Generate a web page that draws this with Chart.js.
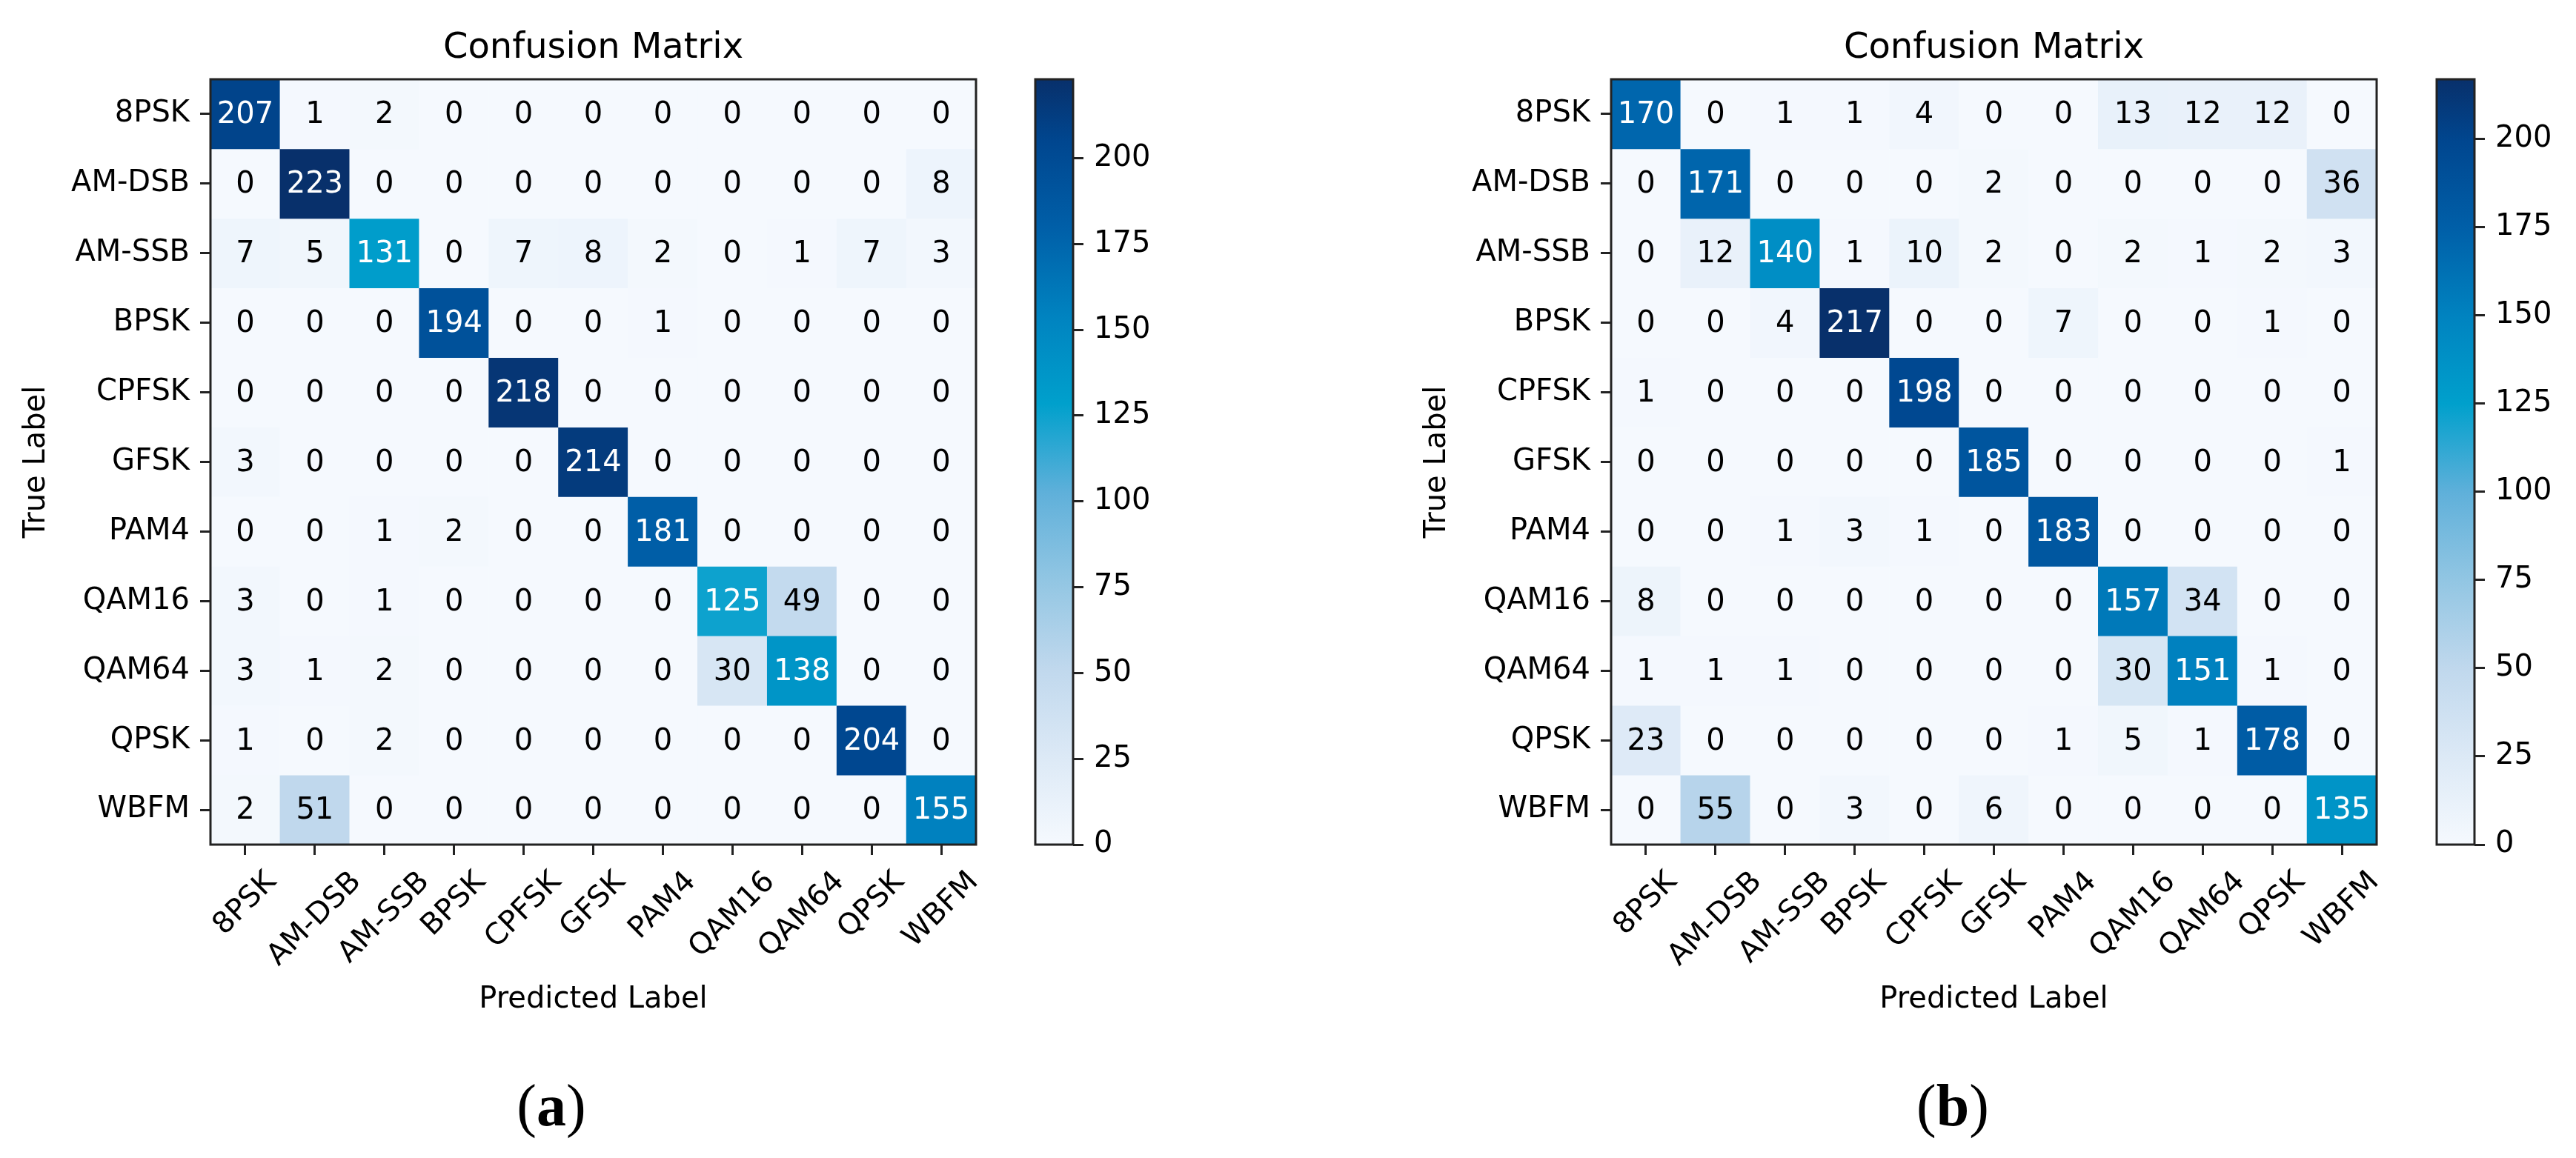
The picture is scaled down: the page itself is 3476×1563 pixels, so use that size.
<!DOCTYPE html>
<html>
<head>
<meta charset="utf-8">
<script src="https://cdn.jsdelivr.net/npm/chart.js@4.4.1/dist/chart.umd.min.js"></script>
<style>
  html, body { margin: 0; padding: 0; background: #fff; width: 3476px; height: 1563px; overflow: hidden; }
  canvas { position: absolute; }
  .caption { position: absolute; width: 200px; text-align: center; font-family: 'Liberation Serif', 'Times New Roman', serif; font-size: 80px; line-height: 100px; color: #000; }
</style>
</head>
<body>
<canvas id="matrixA" width="1600" height="1400" style="left:0px;top:0px"></canvas>
<canvas id="barA" width="220" height="1400" style="left:1370px;top:0px"></canvas>
<canvas id="matrixB" width="1600" height="1400" style="left:1890px;top:0px"></canvas>
<canvas id="barB" width="215" height="1400" style="left:3261px;top:0px"></canvas>
<div class="caption" style="left:644px;top:1442px">(<b>a</b>)</div>
<div class="caption" style="left:2535px;top:1442px">(<b>b</b>)</div>
<script>
const classLabels = ['8PSK', 'AM-DSB', 'AM-SSB', 'BPSK', 'CPFSK', 'GFSK', 'PAM4', 'QAM16', 'QAM64', 'QPSK', 'WBFM'];

// rows = true label, columns = predicted label
const matrixA = [
    [207, 1, 2, 0, 0, 0, 0, 0, 0, 0, 0],
    [0, 223, 0, 0, 0, 0, 0, 0, 0, 0, 8],
    [7, 5, 131, 0, 7, 8, 2, 0, 1, 7, 3],
    [0, 0, 0, 194, 0, 0, 1, 0, 0, 0, 0],
    [0, 0, 0, 0, 218, 0, 0, 0, 0, 0, 0],
    [3, 0, 0, 0, 0, 214, 0, 0, 0, 0, 0],
    [0, 0, 1, 2, 0, 0, 181, 0, 0, 0, 0],
    [3, 0, 1, 0, 0, 0, 0, 125, 49, 0, 0],
    [3, 1, 2, 0, 0, 0, 0, 30, 138, 0, 0],
    [1, 0, 2, 0, 0, 0, 0, 0, 0, 204, 0],
    [2, 51, 0, 0, 0, 0, 0, 0, 0, 0, 155]
];

const matrixB = [
    [170, 0, 1, 1, 4, 0, 0, 13, 12, 12, 0],
    [0, 171, 0, 0, 0, 2, 0, 0, 0, 0, 36],
    [0, 12, 140, 1, 10, 2, 0, 2, 1, 2, 3],
    [0, 0, 4, 217, 0, 0, 7, 0, 0, 1, 0],
    [1, 0, 0, 0, 198, 0, 0, 0, 0, 0, 0],
    [0, 0, 0, 0, 0, 185, 0, 0, 0, 0, 1],
    [0, 0, 1, 3, 1, 0, 183, 0, 0, 0, 0],
    [8, 0, 0, 0, 0, 0, 0, 157, 34, 0, 0],
    [1, 1, 1, 0, 0, 0, 0, 30, 151, 1, 0],
    [23, 0, 0, 0, 0, 0, 1, 5, 1, 178, 0],
    [0, 55, 0, 3, 0, 6, 0, 0, 0, 0, 135]
];

const colorbarTicks = [0, 25, 50, 75, 100, 125, 150, 175, 200];

const FONT = "'DejaVu Sans', sans-serif";
Chart.defaults.font.family = FONT;
Chart.defaults.color = '#000';

// blues colour map as it looks in the picture
const blueStops = [
    [0.00, [245, 249, 254]],
    [0.115, [220, 233, 246]],
    [0.23, [192, 216, 237]],
    [0.345, [146, 198, 227]],
    [0.46, [95, 176, 218]],
    [0.576, [0, 160, 204]],
    [0.69, [0, 131, 192]],
    [0.806, [0, 95, 168]],
    [0.92, [0, 70, 143]],
    [1.00, [8, 48, 107]]
];

function blues(t) {
    t = Math.max(0, Math.min(1, t));
    for (let i = 1; i < blueStops.length; i++) {
        const [t1, c1] = blueStops[i];
        const [t0, c0] = blueStops[i - 1];
        if (t <= t1) {
            const f = (t - t0) / (t1 - t0);
            const c = c0.map((v, k) => Math.round(v + (c1[k] - v) * f));
            return `rgb(${c[0]},${c[1]},${c[2]})`;
        }
    }
    return 'rgb(8,48,107)';
}

const framePlugin = {
    id: 'frame',
    afterDraw(chart) {
        const { ctx, chartArea: a } = chart;
        ctx.save();
        ctx.strokeStyle = '#222';
        ctx.lineWidth = 3;
        ctx.strokeRect(a.left, a.top, a.right - a.left, a.bottom - a.top);
        ctx.restore();
    }
};

function createMatrixChart(canvasId, matrix) {
    const vmax = Math.max(...matrix.flat());

    const datasets = matrix.map((row, r) => ({
        label: classLabels[r],
        data: row.map(() => [r - 0.5, r + 0.5]),
        backgroundColor: row.map(v => blues(v / vmax)),
        borderWidth: 0,
        categoryPercentage: 1,
        barPercentage: 1,
        grouped: false
    }));

    const cellText = {
        id: 'cellText',
        afterDatasetsDraw(chart) {
            const { ctx, scales: { x, y } } = chart;
            ctx.save();
            ctx.font = `40px ${FONT}`;
            ctx.textAlign = 'center';
            ctx.textBaseline = 'middle';
            matrix.forEach((row, r) => {
                row.forEach((v, c) => {
                    ctx.fillStyle = v > vmax / 2 ? '#fff' : '#000';
                    ctx.fillText(String(v), x.getPixelForValue(c), y.getPixelForValue(r) + 2);
                });
            });
            ctx.restore();
        }
    };

    const heading = {
        id: 'heading',
        afterDraw(chart) {
            const { ctx, chartArea: a } = chart;
            ctx.save();
            ctx.font = `48px ${FONT}`;
            ctx.fillStyle = '#000';
            ctx.textAlign = 'center';
            ctx.textBaseline = 'middle';
            ctx.fillText('Confusion Matrix', (a.left + a.right) / 2, 66);
            ctx.restore();
        }
    };

    // rotated x labels, centred on the tick like matplotlib does
    const xLabels = {
        id: 'xLabels',
        afterDraw(chart) {
            const { ctx, chartArea: a, scales: { x } } = chart;
            ctx.save();
            ctx.font = `40px ${FONT}`;
            ctx.fillStyle = '#000';
            ctx.textAlign = 'center';
            ctx.textBaseline = 'middle';
            classLabels.forEach((lab, i) => {
                const w = ctx.measureText(lab).width;
                const boxH = (w + 46) * Math.SQRT1_2;
                ctx.save();
                ctx.translate(x.getPixelForValue(i), a.bottom + 28 + boxH / 2);
                ctx.rotate(-Math.PI / 4);
                ctx.fillText(lab, 0, 0);
                ctx.restore();
            });
            ctx.restore();
        }
    };

    new Chart(document.getElementById(canvasId), {
        type: 'bar',
        data: { labels: classLabels, datasets: datasets },
        options: {
            responsive: false,
            animation: false,
            layout: { padding: { top: 107, right: 283, left: 0, bottom: 0 } },
            plugins: {
                legend: { display: false },
                tooltip: { enabled: false }
            },
            scales: {
                x: {
                    type: 'category',
                    offset: true,
                    afterFit: s => { s.height = 260; },
                    ticks: { display: false },
                    grid: { offset: false, drawOnChartArea: false, tickLength: 14, tickWidth: 3, tickColor: '#222' },
                    border: { display: false },
                    title: {
                        display: true,
                        text: 'Predicted Label',
                        font: { size: 40 },
                        color: '#000',
                        padding: { top: 0, bottom: 26 }
                    }
                },
                y: {
                    type: 'linear',
                    reverse: true,
                    min: -0.5,
                    max: classLabels.length - 0.5,
                    afterBuildTicks: s => { s.ticks = classLabels.map((_, i) => ({ value: i })); },
                    afterFit: s => { s.width = 284; },
                    ticks: {
                        callback: v => classLabels[v],
                        font: { size: 40 },
                        color: '#000',
                        padding: 14,
                        autoSkip: false
                    },
                    grid: { drawOnChartArea: false, tickLength: 14, tickWidth: 3, tickColor: '#222' },
                    border: { display: false },
                    title: {
                        display: true,
                        text: 'True Label',
                        font: { size: 40 },
                        color: '#000',
                        padding: { top: 26, bottom: 0 }
                    }
                }
            }
        },
        plugins: [cellText, framePlugin, heading, xLabels]
    });
    return vmax;
}

function createColorbar(canvasId, vmax, axisWidth) {
    const gradientFill = (context) => {
        const { ctx, chartArea } = context.chart;
        if (!chartArea) return null;
        const g = ctx.createLinearGradient(0, chartArea.bottom, 0, chartArea.top);
        blueStops.forEach(([t, c]) => g.addColorStop(t, `rgb(${c[0]},${c[1]},${c[2]})`));
        return g;
    };

    new Chart(document.getElementById(canvasId), {
        type: 'bar',
        data: {
            labels: [''],
            datasets: [{
                data: [[0, vmax]],
                backgroundColor: gradientFill,
                borderWidth: 0,
                categoryPercentage: 1,
                barPercentage: 1
            }]
        },
        options: {
            responsive: false,
            animation: false,
            layout: { padding: { left: 27, top: 107, bottom: 260, right: 0 } },
            plugins: {
                legend: { display: false },
                tooltip: { enabled: false }
            },
            scales: {
                x: { display: false },
                y: {
                    position: 'right',
                    min: 0,
                    max: vmax,
                    afterBuildTicks: s => { s.ticks = colorbarTicks.map(v => ({ value: v })); },
                    afterFit: s => { s.width = axisWidth; },
                    ticks: { font: { size: 40 }, color: '#000', padding: 14 },
                    grid: { drawOnChartArea: false, tickLength: 14, tickWidth: 3, tickColor: '#222' },
                    border: { display: false }
                }
            }
        },
        plugins: [framePlugin]
    });
}

const maxA = createMatrixChart('matrixA', matrixA);
createColorbar('barA', maxA, 142);
const maxB = createMatrixChart('matrixB', matrixB);
createColorbar('barB', maxB, 137);
</script>
</body>
</html>
